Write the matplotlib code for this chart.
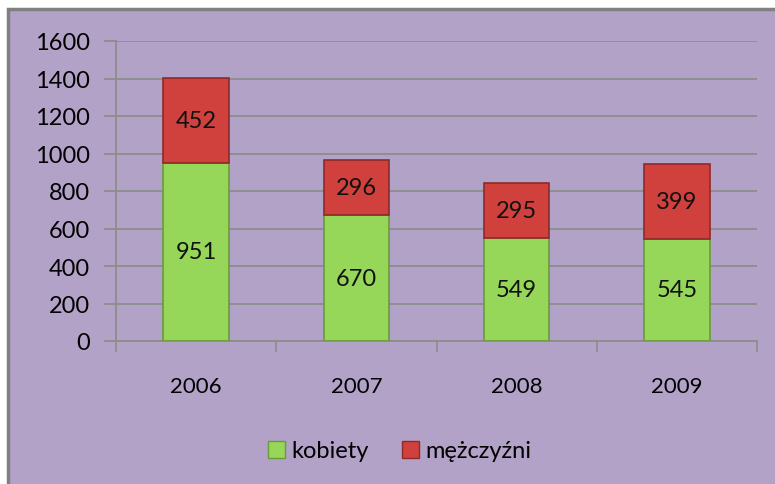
import matplotlib.pyplot as plt
from matplotlib.patches import Rectangle, Patch

# dane
lata = ['2006', '2007', '2008', '2009']
kobiety = [951, 670, 549, 545]
mezczyzni = [452, 296, 295, 399]

tlo = '#B3A2C7'
zielony = '#96D75A'
czerwony = '#D0413E'

plt.rcParams['font.family'] = ['Lato', 'DejaVu Sans']

fig = plt.figure(figsize=(7.75, 4.85), dpi=100)
fig.patch.set_facecolor('white')
# tło wykresu z szarą ramką
fig.patches.append(Rectangle((8 / 775, -0.05), 1.1, 1 - 10 / 485 + 0.05,
                             transform=fig.transFigure, facecolor=tlo,
                             edgecolor='#808080', linewidth=2.5, zorder=-10))

ax = fig.add_axes([116 / 775, 1 - 342 / 485, 641 / 775, 300 / 485])
ax.set_facecolor('none')

x = range(len(lata))
b1 = ax.bar(x, kobiety, width=0.41, color=zielony, edgecolor='#6A9A3A',
            linewidth=1.2, zorder=3)
b2 = ax.bar(x, mezczyzni, width=0.41, bottom=kobiety, color=czerwony,
            edgecolor='#8E2A28', linewidth=1.2, zorder=3)

ax.bar_label(b1, label_type='center', fontsize=17, color='#111111')
ax.bar_label(b2, label_type='center', fontsize=17, color='#111111')

ax.set_xlim(-0.5, 3.5)
ax.set_ylim(0, 1600)
ax.set_yticks(range(0, 1601, 200))
ax.grid(axis='y', color='#8C8C8C', linewidth=1.3, zorder=1)
ax.set_axisbelow(True)

ax.set_xticks(list(x))
ax.set_xticklabels(lata)
ax.set_xticks([i - 0.5 for i in range(len(lata) + 1)], minor=True)
ax.tick_params(axis='x', which='major', length=0, pad=25, labelsize=16)
ax.tick_params(axis='x', which='minor', length=8, color='#8C8C8C', width=1.2)
ax.tick_params(axis='y', length=9, color='#8C8C8C', width=1.3, pad=10,
               labelsize=17)

for s in ['top', 'right']:
    ax.spines[s].set_visible(False)
for s in ['left', 'bottom']:
    ax.spines[s].set_color('#8C8C8C')
    ax.spines[s].set_linewidth(1.3)

uchwyty = [Patch(facecolor=zielony, edgecolor='#6A9A3A', label='kobiety'),
           Patch(facecolor=czerwony, edgecolor='#8E2A28', label='mężczyźni')]
fig.legend(handles=uchwyty, loc='center', bbox_to_anchor=(400 / 775, 1 - 452 / 485),
           ncol=2, frameon=False, fontsize=17, handlelength=0.7, handleheight=0.7,
           handletextpad=0.3, columnspacing=1.4)

plt.savefig('out.png', dpi=100, facecolor=fig.get_facecolor())
